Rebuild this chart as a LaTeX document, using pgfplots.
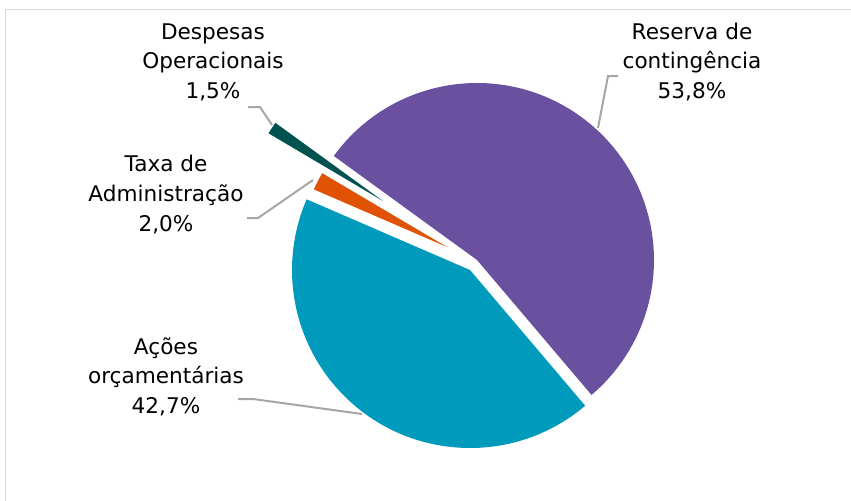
\documentclass[border=0pt]{standalone}
\usepackage{pgfplots}
\pgfplotsset{compat=1.18}
\usepackage{fontspec}
\setmainfont{DejaVu Sans}
\definecolor{cPurple}{RGB}{106,81,160}
\definecolor{cBlue}{RGB}{0,154,189}
\definecolor{cOrange}{RGB}{224,82,6}
\definecolor{cTeal}{RGB}{0,82,80}
\definecolor{cLead}{RGB}{166,166,166}
\definecolor{cFrame}{RGB}{217,217,217}
\tikzset{lab/.style={anchor=base, font=\fontsize{10.8}{13}\selectfont, text=black, inner sep=0pt}}
% slice: apex x, apex y (axis units), radius, start angle, percentage, colour
\newcommand{\slice}[6]{%
  \fill[#6] (axis cs:#1,#2) -- ++({#4}:#3) arc[start angle={#4}, delta angle={-3.6*#5}, radius=#3] -- cycle;%
}
\begin{document}
\begin{tikzpicture}
\begin{axis}[hide axis, x=0.5pt, y=0.5pt, xmin=0, xmax=851, ymin=0, ymax=500, clip=true]
\path (axis cs:0,0) rectangle (axis cs:851,500);
% frame
\draw[cFrame, line width=0.75pt] (axis cs:5.5,-5) -- (axis cs:5.5,490.5) -- (axis cs:860,490.5);
% slices: Reserva de contingencia 53.8, Acoes orcamentarias 42.7, Taxa de Administracao 2.0, Despesas Operacionais 1.5
\slice{477}{240}{88.5pt}{144}{53.8}{cPurple}
\slice{470}{230}{89pt}{144-3.6*53.8}{42.7}{cBlue}
\slice{447}{253}{72.5pt}{144-3.6*(53.8+42.7)}{2.0}{cOrange}
\slice{383}{299}{66.5pt}{144-3.6*(53.8+42.7+2.0)}{1.5}{cTeal}
% leader lines
\draw[cLead, line width=1pt] (axis cs:248,393) -- (axis cs:260,393) -- (axis cs:272,375);
\draw[cLead, line width=1pt] (axis cs:618,424) -- (axis cs:608,424) -- (axis cs:598,372);
\draw[cLead, line width=1pt] (axis cs:247,282) -- (axis cs:258,282) -- (axis cs:313,320);
\draw[cLead, line width=1pt] (axis cs:238,101) -- (axis cs:253,101) -- (axis cs:362,86);
% labels
\node[lab] at (axis cs:213,461) {Despesas};
\node[lab] at (axis cs:213,431.5) {Operacionais};
\node[lab] at (axis cs:213,402) {1,5\%};
\node[lab] at (axis cs:692,461) {Reserva de};
\node[lab] at (axis cs:692,431.5) {contingência};
\node[lab] at (axis cs:692,402) {53,8\%};
\node[lab] at (axis cs:166,329) {Taxa de};
\node[lab] at (axis cs:166,299) {Administração};
\node[lab] at (axis cs:166,269) {2,0\%};
\node[lab] at (axis cs:166,146) {Ações};
\node[lab] at (axis cs:166,116.5) {orçamentárias};
\node[lab] at (axis cs:166,87) {42,7\%};
\end{axis}
\end{tikzpicture}
\end{document}
